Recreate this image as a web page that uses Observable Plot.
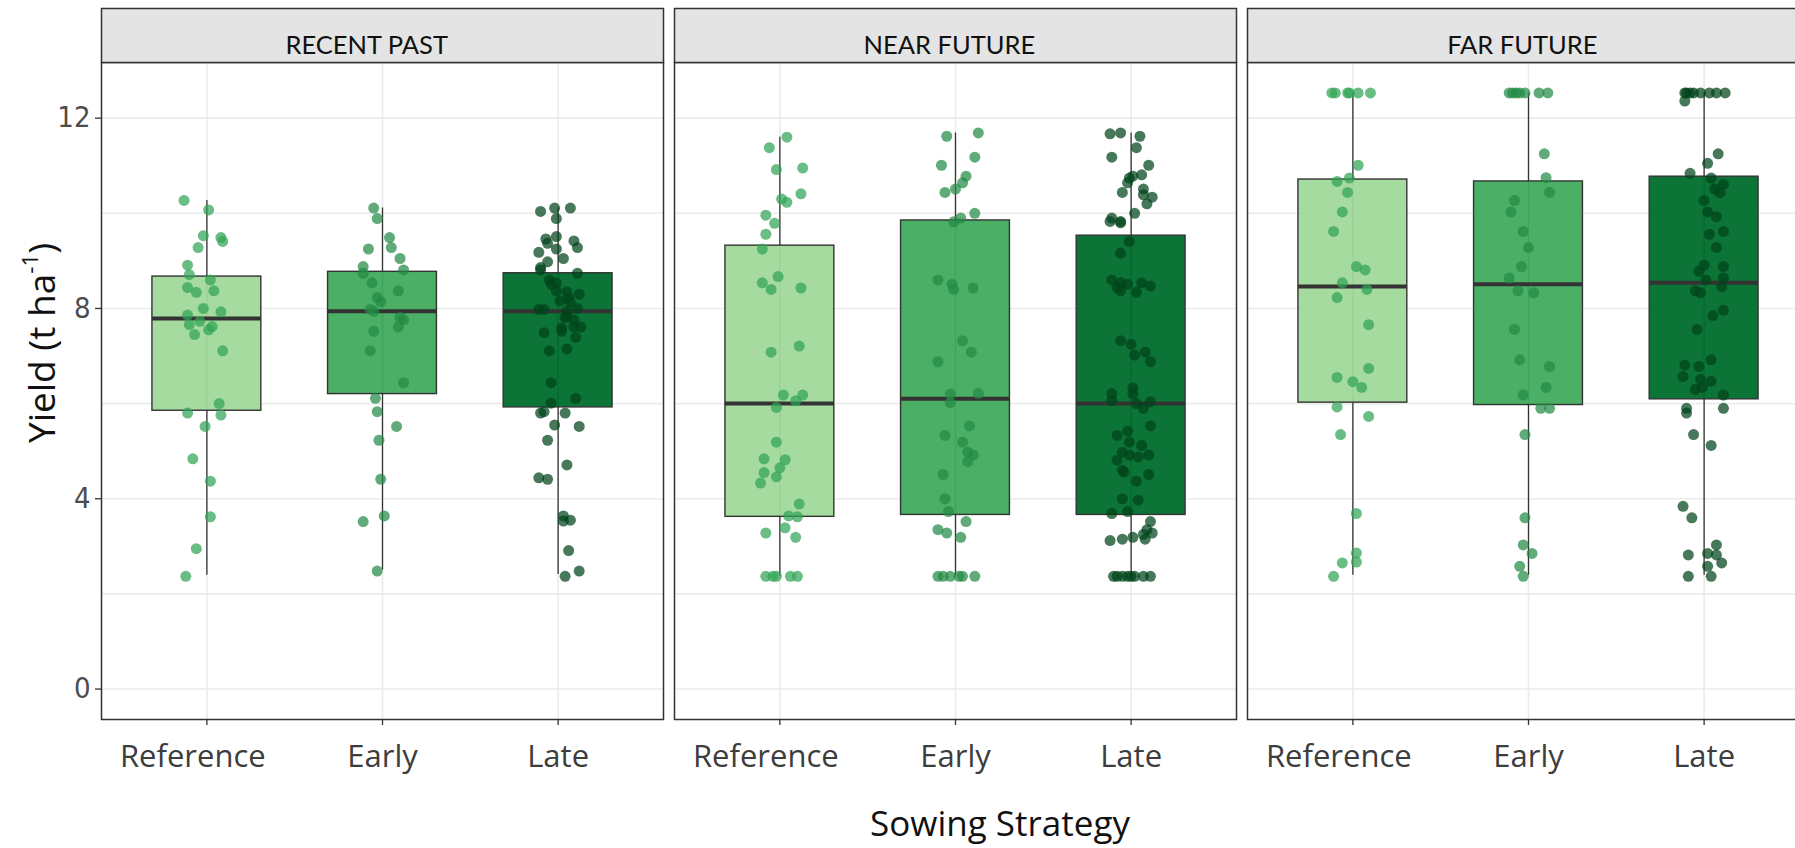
<!DOCTYPE html>
<html>
<head>
<meta charset="utf-8">
<script src="https://cdn.jsdelivr.net/npm/d3@7"></script>
<script src="https://cdn.jsdelivr.net/npm/@observablehq/plot@0.6"></script>
<style>
  html, body { margin: 0; padding: 0; background: #fff; overflow: hidden; }
  #wrap { position: relative; width: 1795px; height: 848px; overflow: hidden; }
  #chart { position: absolute; left: 0; top: 0; width: 1810px; }
  #chart svg { max-width: none !important; }
  .ytitle { position: absolute; left: 40px; top: 343px; transform: translate(-50%, -50%) rotate(-90deg);
    font-family: "Open Sans", sans-serif; font-size: 37px; color: #111; white-space: nowrap; line-height: 1; }
  .ytitle sup { font-size: 0.6em; vertical-align: 0.75em; line-height: 0; }
  .xtitle { position: absolute; left: 1000px; top: 822px; transform: translate(-50%, -50%);
    font-family: "Open Sans", sans-serif; font-size: 35px; color: #111; white-space: nowrap; line-height: 1; }
</style>
</head>
<body>
<div id="wrap">
  <div id="chart"></div>
  <div class="ytitle">Yield (t ha<sup>-1</sup>)</div>
  <div class="xtitle">Sowing Strategy</div>
</div>
<script>
// ---------------- DATA ----------------
const periods = ["RECENT PAST", "NEAR FUTURE", "FAR FUTURE"];
const strategies = ["Reference", "Early", "Late"];
const yTicks = [0, 4, 8, 12];
const yGrid = [0, 2, 4, 6, 8, 10, 12];

// box statistics, order: RP-Ref, RP-Early, RP-Late, NF-Ref, NF-Early, NF-Late, FF-Ref, FF-Early, FF-Late
const boxLow  = [2.39, 2.50, 2.41, 2.37, 2.37, 2.37, 2.39, 2.39, 2.39];
const boxQ1   = [5.85, 6.20, 5.92, 3.62, 3.66, 3.66, 6.02, 5.97, 6.09];
const boxMed  = [7.79, 7.94, 7.94, 6.00, 6.10, 6.00, 8.46, 8.51, 8.54];
const boxQ3   = [8.67, 8.77, 8.74, 9.32, 9.85, 9.53, 10.71, 10.67, 10.77];
const boxHigh = [10.27, 10.11, 10.11, 11.60, 11.69, 11.69, 12.53, 12.53, 12.53];

// individual yields [yield t/ha, jitter (fraction of category spacing)]
const recentReference = [[10.27,-0.13],[10.07,0.01],[9.53,-0.02],[9.49,0.08],[9.41,0.09],[9.28,-0.05],[8.91,-0.11],[8.71,-0.10],[8.60,0.02],[8.44,-0.11],[8.34,-0.06],[8.37,0.04],[8.00,-0.02],[7.93,0.08],[7.86,-0.11],[7.66,-0.10],[7.73,-0.04],[7.62,0.03],[7.55,0.01],[7.45,-0.07],[7.11,0.09],[6.00,0.07],[5.80,-0.11],[5.76,0.08],[5.52,-0.01],[4.84,-0.08],[4.37,0.02],[3.62,0.02],[2.95,-0.06],[2.37,-0.12]];
const recentEarly = [[10.11,-0.05],[9.89,-0.03],[9.49,0.04],[9.28,0.05],[9.25,-0.08],[9.05,0.10],[8.88,-0.11],[8.81,0.12],[8.74,-0.11],[8.54,-0.06],[8.37,0.09],[8.23,-0.03],[8.14,-0.01],[7.98,-0.07],[7.94,-0.05],[7.81,0.10],[7.76,0.12],[7.61,0.09],[7.52,-0.05],[7.11,-0.07],[6.44,0.12],[6.11,-0.04],[5.83,-0.03],[5.52,0.08],[5.23,-0.02],[4.41,-0.01],[3.64,0.01],[3.52,-0.11],[2.48,-0.03]];
const recentLate = [[10.04,-0.10],[10.11,-0.02],[10.11,0.07],[9.89,-0.01],[9.46,-0.07],[9.51,-0.01],[9.37,-0.06],[9.42,0.09],[9.28,0.11],[9.25,-0.01],[9.18,-0.11],[9.05,0.03],[8.98,-0.06],[8.86,-0.10],[8.81,-0.10],[8.74,0.11],[8.60,-0.05],[8.54,-0.01],[8.51,-0.04],[8.37,-0.01],[8.35,0.05],[8.30,0.12],[8.23,0.06],[8.16,0.01],[8.13,0.07],[7.98,-0.11],[7.98,-0.08],[8.00,0.11],[7.94,0.05],[7.81,0.04],[7.84,0.05],[7.76,0.09],[7.61,0.13],[7.61,0.09],[7.59,0.02],[7.52,0.02],[7.49,-0.08],[7.39,0.10],[7.11,-0.05],[7.15,0.05],[6.44,-0.04],[6.11,0.10],[6.01,-0.04],[5.80,-0.10],[5.83,-0.08],[5.80,0.04],[5.55,-0.02],[5.52,0.12],[5.23,-0.06],[4.71,0.05],[4.44,-0.11],[4.41,-0.06],[3.64,0.03],[3.53,0.03],[3.55,0.07],[2.91,0.06],[2.48,0.12],[2.37,0.04]];
const nearReference = [[11.60,0.04],[11.38,-0.06],[10.92,-0.02],[10.95,0.13],[10.30,0.01],[10.23,0.04],[10.41,0.12],[9.96,-0.08],[9.79,-0.03],[9.56,-0.08],[9.25,-0.10],[8.67,-0.01],[8.54,-0.10],[8.40,-0.05],[8.43,0.12],[7.08,-0.05],[7.21,0.11],[6.18,0.02],[6.18,0.13],[6.06,0.09],[5.92,-0.02],[5.19,-0.02],[4.84,-0.09],[4.82,0.03],[4.65,0],[4.55,-0.09],[4.46,-0.02],[4.33,-0.11],[3.89,0.11],[3.64,0.05],[3.62,0.10],[3.39,0.03],[3.28,-0.08],[3.19,0.09],[2.37,-0.08],[2.37,-0.04],[2.37,-0.02],[2.37,0.06],[2.37,0.10]];
const nearEarly = [[11.69,0.13],[11.62,-0.05],[11.01,-0.08],[11.18,0.11],[10.78,0.06],[10.64,0.04],[10.51,0],[10.44,-0.06],[10.00,0.11],[9.90,0.03],[9.82,-0.01],[8.60,-0.10],[8.51,-0.02],[8.40,-0.01],[8.43,0.10],[7.32,0.04],[7.08,0.09],[6.88,-0.10],[6.20,-0.03],[6.21,0.13],[6.02,-0.03],[5.53,0.08],[5.33,-0.06],[5.19,0.04],[4.98,0.07],[4.92,0.10],[4.78,0.07],[4.51,-0.07],[4.00,-0.06],[3.73,-0.04],[3.52,0.06],[3.35,-0.10],[3.28,-0.05],[3.19,0.03],[2.37,-0.10],[2.37,-0.07],[2.37,-0.03],[2.37,0.02],[2.37,0.04],[2.37,0.11]];
const nearLate = [[11.67,-0.12],[11.69,-0.06],[11.62,0.05],[11.38,0.03],[11.18,-0.11],[11.01,0.10],[10.81,0.06],[10.78,0.01],[10.74,-0.01],[10.64,-0.02],[10.51,0.07],[10.44,-0.05],[10.39,0.07],[10.34,0.12],[10.20,0.09],[10.00,0.02],[9.83,-0.12],[9.90,-0.11],[9.83,-0.06],[9.80,-0.06],[9.41,-0.01],[9.16,-0.06],[8.60,-0.11],[8.54,-0.06],[8.51,-0.02],[8.44,-0.08],[8.37,-0.06],[8.54,0.06],[8.47,0.11],[8.34,0.03],[7.32,-0.06],[7.25,0],[7.02,0.02],[7.08,0.08],[6.88,0.11],[6.33,0.01],[6.21,-0.11],[6.20,0.01],[6.06,-0.11],[6.00,0.03],[5.90,0.07],[6.04,0.11],[5.53,0.11],[5.33,-0.08],[5.42,-0.02],[5.19,-0.01],[5.12,0.06],[4.98,-0.05],[4.92,-0.01],[4.88,0.04],[4.92,0.10],[4.81,-0.08],[4.60,-0.05],[4.56,-0.04],[4.51,0.10],[4.37,0.03],[4.00,-0.05],[3.97,0.04],[3.69,-0.11],[3.73,-0.02],[3.52,0.11],[3.35,0.09],[3.28,0.12],[3.25,0.07],[3.15,0.08],[3.12,-0.12],[3.15,-0.05],[3.19,0.01],[2.37,-0.10],[2.37,-0.08],[2.37,-0.05],[2.37,-0.02],[2.37,0],[2.37,0.02],[2.37,0.07],[2.37,0.11]];
const farReference = [[12.53,-0.12],[12.53,-0.10],[12.53,-0.03],[12.53,-0.02],[12.53,0.03],[12.53,0.10],[11.01,0.03],[10.67,-0.09],[10.74,-0.02],[10.44,-0.03],[10.03,-0.06],[9.62,-0.11],[8.88,0.02],[8.81,0.07],[8.54,-0.06],[8.40,0.08],[8.23,-0.09],[7.66,0.09],[6.74,0.09],[6.55,-0.09],[6.46,0],[6.34,0.05],[5.93,-0.09],[5.73,0.09],[5.35,-0.07],[3.69,0.02],[2.86,0.02],[2.65,-0.06],[2.67,0.02],[2.37,-0.11]];
const farEarly = [[12.53,-0.11],[12.53,-0.09],[12.53,-0.07],[12.53,-0.05],[12.53,-0.02],[12.53,0.06],[12.53,0.11],[11.25,0.09],[10.75,0.10],[10.44,0.12],[10.27,-0.08],[10.03,-0.10],[9.62,-0.03],[9.28,0],[8.88,-0.04],[8.64,-0.11],[8.37,-0.06],[8.33,0.03],[7.56,-0.08],[6.92,-0.05],[6.78,0.12],[6.34,0.10],[6.18,-0.03],[5.90,0.07],[5.90,0.12],[5.35,-0.02],[3.60,-0.02],[3.03,-0.03],[2.85,0.02],[2.58,-0.05],[2.37,-0.03]];
const farLate = [[12.53,-0.11],[12.53,-0.10],[12.53,-0.08],[12.53,-0.06],[12.53,-0.02],[12.53,0.03],[12.53,0.07],[12.53,0.12],[12.36,-0.11],[11.25,0.08],[11.05,0.02],[10.84,-0.08],[10.74,0.04],[10.61,0.11],[10.51,0.06],[10.43,0.09],[10.27,0],[10.03,0.02],[9.93,0.07],[9.62,0.11],[9.56,0.03],[9.28,0.07],[8.91,0],[8.88,0.11],[8.78,-0.03],[8.60,0.01],[8.64,0.11],[8.46,0.10],[8.37,-0.05],[8.33,-0.02],[7.96,0.11],[7.85,0.05],[7.56,-0.04],[6.92,0.04],[6.81,-0.11],[6.78,-0.03],[6.57,-0.12],[6.51,-0.02],[6.47,0.04],[6.30,-0.05],[6.34,-0.01],[6.18,0.11],[5.90,-0.10],[5.80,-0.10],[5.90,0.11],[5.35,-0.06],[5.12,0.04],[3.84,-0.12],[3.60,-0.07],[3.03,0.07],[2.82,-0.09],[2.85,0.02],[2.82,0.07],[2.65,0.10],[2.58,0.02],[2.37,-0.09],[2.37,0.04]];

// ---------------- STYLE ----------------
const boxFill = {Reference: "#a1d99b", Early: "#41ab5d", Late: "#006d2c"};
const dotFill = {Reference: "#31a354", Early: "#238b45", Late: "#00441b"};
// label nudges (x-units) to mirror the reference's label placement
const stripNudge = {"RECENT PAST": -0.09, "NEAR FUTURE": -0.035, "FAR FUTURE": -0.035};
const tickNudge = {Reference: -0.08, Early: 0, Late: 0};

// ---------------- BUILD TABLES ----------------
const groups = [
  [periods[0], strategies[0], recentReference], [periods[0], strategies[1], recentEarly], [periods[0], strategies[2], recentLate],
  [periods[1], strategies[0], nearReference],   [periods[1], strategies[1], nearEarly],   [periods[1], strategies[2], nearLate],
  [periods[2], strategies[0], farReference],    [periods[2], strategies[1], farEarly],    [periods[2], strategies[2], farLate]
];
const boxes = groups.map(([period, strategy], i) => ({
  period, strategy, idx: strategies.indexOf(strategy) + 1,
  low: boxLow[i], q1: boxQ1[i], med: boxMed[i], q3: boxQ3[i], high: boxHigh[i]
}));
const points = groups.flatMap(([period, strategy, arr]) =>
  arr.map(([value, jitter]) => ({period, strategy, idx: strategies.indexOf(strategy) + 1, value, jitter})));

const W = 1810, H = 800, mT = 62, mB = 81, mL = 100;
const plotH = H - mT - mB;
const halfBox = 0.31;

const chart = Plot.plot({
  width: W, height: H,
  marginTop: mT, marginBottom: mB, marginLeft: mL, marginRight: 0,
  style: {background: "transparent", overflow: "visible", maxWidth: "none"},
  fx: {domain: periods, padding: 0.02, axis: null, label: null},
  x: {domain: [0.4, 3.6], axis: null},
  y: {domain: [-0.64, 13.17], axis: null},
  color: {type: "identity"},
  marks: [
    Plot.gridY(yGrid, {stroke: "#ebebeb", strokeOpacity: 1, strokeWidth: 1.6}),
    Plot.gridX([1, 2, 3], {stroke: "#ebebeb", strokeOpacity: 1, strokeWidth: 1.6}),
    Plot.ruleX(boxes, {fx: "period", x: "idx", y1: "low", y2: "high", stroke: "#333", strokeWidth: 1.3}),
    Plot.rect(boxes, {fx: "period", x1: d => d.idx - halfBox, x2: d => d.idx + halfBox, y1: "q1", y2: "q3",
      fill: d => boxFill[d.strategy], fillOpacity: 0.95, stroke: "#333", strokeWidth: 1.4}),
    Plot.ruleY(boxes, {fx: "period", y: "med", x1: d => d.idx - halfBox, x2: d => d.idx + halfBox,
      stroke: "#333", strokeWidth: 4}),
    Plot.dot(points, {fx: "period", x: d => d.idx + d.jitter, y: "value", r: 5.5,
      fill: d => dotFill[d.strategy], fillOpacity: 0.72, stroke: "none"}),
    Plot.frame({stroke: "#333", strokeWidth: 1.5}),
    Plot.frame({fill: "#e4e4e4", stroke: "#333", strokeWidth: 1.5, insetTop: -54, insetBottom: plotH}),
    Plot.text(periods, {fx: d => d, x: d => 2 + stripNudge[d], text: d => d, frameAnchor: "top", dy: -27,
      fontSize: 25.5, fontFamily: "Lato, sans-serif", fill: "#111"}),
    Plot.axisY(yTicks, {tickSize: 6, tickPadding: 5, fontSize: 29,
      fontFamily: "'Liberation Sans Narrow', 'DejaVu Sans Condensed', sans-serif",
      fill: "#4d4d4d", stroke: "#333", strokeWidth: 1.3, label: null}),
    Plot.axisX([1, 2, 3], {tickFormat: () => "", tickSize: 6, stroke: "#333", strokeWidth: 1.3, label: null}),
    Plot.text(strategies, {x: (d, i) => i + 1 + tickNudge[d], text: d => d, frameAnchor: "bottom", dy: 47,
      fontSize: 31, fontFamily: "'Open Sans', sans-serif", fill: "#3d3d3d"})
  ]
});
document.getElementById("chart").appendChild(chart);
</script>
</body>
</html>
